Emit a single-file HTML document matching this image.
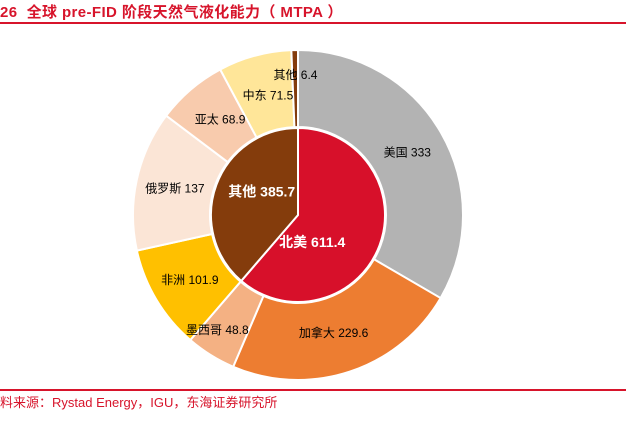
<!DOCTYPE html>
<html><head><meta charset="utf-8"><style>
body{margin:0;background:#fff;width:626px;height:419px;overflow:hidden;font-family:"Liberation Sans","Noto Sans CJK SC",sans-serif}
</style></head><body>
<svg width="626" height="419">
<text x="0" y="17" font-size="15" font-weight="bold" fill="#d7142b" letter-spacing="0.4" font-family="Liberation Sans, Noto Sans CJK SC, sans-serif" xml:space="preserve">26  全球 pre-FID 阶段天然气液化能力（ MTPA ）</text>
<line x1="0" y1="23" x2="626" y2="23" stroke="#d7142b" stroke-width="2"/>
<g id="outer"></g><g id="inner"></g><g id="labels"></g>
<line x1="0" y1="390" x2="626" y2="390" stroke="#d7142b" stroke-width="2"/>
<text x="0" y="407" font-size="13" fill="#d7142b" font-family="Liberation Sans, Noto Sans CJK SC, sans-serif">料来源：Rystad Energy，IGU，东海证券研究所</text>
</svg>
<script>
const outerCats=["美国","加拿大","墨西哥","非洲","俄罗斯","亚太","中东","其他"];
const outerVals=[333,229.6,48.8,101.9,137,68.9,71.5,6.4];
const outerColors=["#b3b3b3","#ed7d31","#f4b183","#ffc000","#fbe5d6","#f8cbad","#ffe699","#843c0c"];
const innerCats=["北美","其他"];
const innerVals=[611.4,385.7];
const innerColors=["#d7102a","#843c0c"];
const outerNudge=[[0,0],[-4,-2],[-14,8],[0,0],[0,0],[4,0],[3,2],[0,-14]];
const innerNudge=[[-27,12],[5,-8]];
const CX=298,CY=215,R1=165,R0=88,RI=87;
const NS="http://www.w3.org/2000/svg";
function pt(a,r){return [CX+r*Math.sin(a),CY-r*Math.cos(a)];}
function arc(a0,a1,r0,r1){
  const lg=(a1-a0)>Math.PI?1:0;
  const [x0,y0]=pt(a0,r1),[x1,y1]=pt(a1,r1);
  if(r0<=0){return `M${CX},${CY}L${x0},${y0}A${r1},${r1} 0 ${lg} 1 ${x1},${y1}Z`;}
  const [x2,y2]=pt(a1,r0),[x3,y3]=pt(a0,r0);
  return `M${x0},${y0}A${r1},${r1} 0 ${lg} 1 ${x1},${y1}L${x2},${y2}A${r0},${r0} 0 ${lg} 0 ${x3},${y3}Z`;
}
function ring(g,cats,vals,cols,r0,r1,lr,fs,fill,bold,prefix,nudge){
  const tot=vals.reduce((a,b)=>a+b,0);let acc=0;
  const G=document.getElementById(g),L=document.getElementById('labels');
  cats.forEach((c,i)=>{
    const a0=acc/tot*2*Math.PI;acc+=vals[i];const a1=acc/tot*2*Math.PI;
    const p=document.createElementNS(NS,'path');
    p.setAttribute('d',arc(a0,a1,r0,r1));p.setAttribute('fill',cols[i]);
    p.setAttribute('stroke','#fff');p.setAttribute('stroke-width','2');
    
    
    G.appendChild(p);
    let [tx,ty]=pt((a0+a1)/2,lr);
    const n=nudge[i]||[0,0];tx+=n[0];ty+=n[1];
    const t=document.createElementNS(NS,'text');
    t.setAttribute('x',tx);t.setAttribute('y',ty+fs*0.35);t.setAttribute('text-anchor','middle');
    t.setAttribute('font-size',fs);t.setAttribute('fill',fill);if(bold)t.setAttribute('font-weight','bold');
    t.textContent=c+' '+vals[i];
    
    
    L.appendChild(t);
  });
}
ring('outer',outerCats,outerVals,outerColors,R0,R1,126,12,"#000",false,'outer',outerNudge);
ring('inner',innerCats,innerVals,innerColors,0,RI,44,14,"#fff",true,'inner',innerNudge);
</script>
</body></html>
